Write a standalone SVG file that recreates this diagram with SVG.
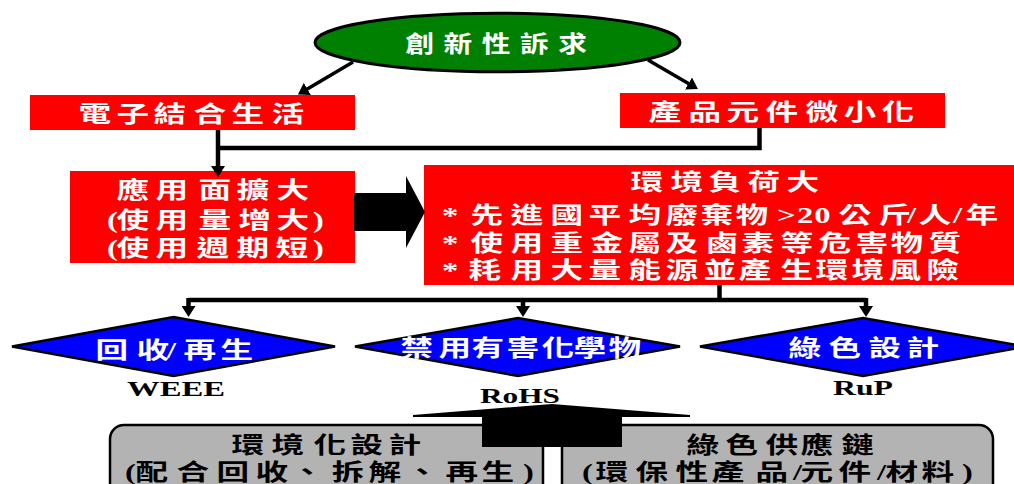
<svg xmlns="http://www.w3.org/2000/svg" width="1014" height="484" viewBox="0 0 1014 484">
<style>
.box{fill:#ff0000}
.dia{fill:#0000ff;stroke:#000;stroke-width:2.5}
.gray{fill:#b3b3b3;stroke:#000;stroke-width:2.5}
.cn{fill:none;stroke:#000;stroke-width:4.5;stroke-linejoin:miter}
.ln{fill:none;stroke:#000;stroke-width:3.5}
.t{font-family:"Liberation Serif","Noto Sans CJK TC",serif;font-weight:700;font-size:22.5px}
.lt{font-family:"Liberation Serif","Noto Sans CJK TC",serif;font-weight:700;font-size:21px;fill:#000}
.wt{fill:#fff}
.bk{fill:#000}
</style>
<defs>
<marker id="ah" markerUnits="userSpaceOnUse" markerWidth="12" markerHeight="14" viewBox="0 0 12 14" refX="1" refY="7" orient="auto">
<path d="M0,0 L11,7 L0,14 Z" fill="#000"/>
</marker>
</defs>

<g id="node-innovation">
<ellipse cx="497.5" cy="42.5" rx="182.5" ry="29.2" fill="#008000" stroke="#000" stroke-width="3"/>
<g transform="scale(1.25,1)">
<text class="t wt" style="font-size:23px" x="324.2 354.8 385.5 416.1 446.6" y="52">創新性訴求</text>
</g>
</g>

<g id="node-electronic-life">
<rect class="box" x="30" y="95" width="325" height="35"/>
<g transform="scale(1.45,1)">
<text class="t wt" x="54.2 80.4 105.9 133.5 159.7 187.3" y="122.5">電子結合生活</text>
</g>
</g>

<g id="node-miniaturization">
<rect class="box" x="620" y="93" width="325" height="35"/>
<g transform="scale(1.45,1)">
<text class="t wt" x="447.3 474.9 501.1 528.0 555.6 581.8 608.0" y="120.5">產品元件微小化</text>
</g>
</g>

<g id="node-application">
<rect class="box" x="70" y="171" width="285" height="92"/>
<g transform="scale(1.45,1)">
<text class="t wt" x="80.4 107.3 136.9 163.1 190.7" y="198.5">應用面擴大</text>
<text class="t wt" x="73.8 80.4 107.3 136.9 164.5 190.7 215.9" y="228.5">(使用量增大)</text>
<text class="t wt" x="73.8 80.4 107.3 135.6 163.1 190.0 215.9" y="256.5">(使用週期短)</text>
</g>
</g>

<g id="node-env-load">
<rect class="box" x="424" y="165" width="600" height="120"/>
<g transform="scale(1.45,1)">
<text class="t wt" x="434.9 462.4 488.7 515.6 542.4" y="190.5">環境負荷大</text>
<text class="t wt" x="304.8 315 324.5 352.1 379.7 405.9 433.5 459.0 483.1 507.3 535.9 549.7 561.5 578.3 605.9 625.5 633.5 657.2 665.9" y="223.5">* 先進國平均廢棄物&gt;20公斤/人/年</text>
<text class="t wt" x="304.8 315 324.5 352.1 379.7 407.3 433.5 459.0 486.6 511.4 538.3 564.5 590.0 614.2 640.4" y="251.5">* 使用重金屬及鹵素等危害物質</text>
<text class="t wt" x="304.8 315 323.1 352.1 379.7 405.9 433.5 459.0 485.2 509.3 538.3 562.4 587.3 612.8 639.0" y="278.5">* 耗用大量能源並產生環境風險</text>
</g>
</g>

<g id="node-recycle">
<polygon class="dia" points="12,346.5 173.5,317 335,346.5 173.5,376"/>
<g transform="scale(1.45,1)">
<text class="t wt" x="65.9 94.2 115.2 126.6 152.1" y="358.5">回收/再生</text>
</g>
<text class="lt" x="127" y="395.5" textLength="98" lengthAdjust="spacingAndGlyphs">WEEE</text>
</g>

<g id="node-hazard">
<polygon class="dia" points="355,346.5 518,318 680,346.5 518,376"/>
<g transform="scale(1.45,1)">
<text class="t wt" x="276.2 302.4 325.2 349.3 373.5 395.6 419.7" y="356.5">禁用有害化學物</text>
</g>
<text class="lt" x="480" y="402.5" textLength="80" lengthAdjust="spacingAndGlyphs">RoHS</text>
</g>

<g id="node-green-design">
<polygon class="dia" points="700,346.5 863,318 1026,346.5 863,376"/>
<g transform="scale(1.45,1)">
<text class="t wt" x="543.8 571.4 599.0 625.2" y="356.5">綠色設計</text>
</g>
<text class="lt" x="833" y="395" textLength="60" lengthAdjust="spacingAndGlyphs">RuP</text>
</g>

<g id="node-eco-design">
<rect class="gray" x="110" y="425" width="433" height="80" rx="14" ry="14"/>
<g transform="scale(1.45,1)">
<text class="t bk" x="159.7 187.3 216.2 241.8 268.0" y="453.5">環境化設計</text>
<text class="t bk" x="86.2 93.5 121.8 149.3 176.2 200.5 228.7 254.2 279.9 307.3 332.1 360.7" y="480.5">(配合回收、拆解、再生)</text>
</g>
</g>

<g id="node-green-supply">
<rect class="gray" x="562" y="425" width="431" height="80" rx="14" ry="14"/>
<g transform="scale(1.45,1)">
<text class="t bk" x="473.5 500.4 528.0 552.1 580.4" y="453.5">綠色供應鏈</text>
<text class="t bk" x="401.4 410.7 438.3 465.9 490.7 521.1 546.9 552.1 578.3 604.8 610.7 635.6 663.4" y="480.5">(環保性產品/元件/材料)</text>
</g>
</g>

<g id="connectors">
<path class="ln" d="M353,62 L306.5,89.4" marker-end="url(#ah)"/>
<path class="ln" d="M648,60 L689.3,84" marker-end="url(#ah)"/>
<path class="cn" d="M218,130 L218,167" marker-end="url(#ah)"/>
<path class="cn" d="M218,148 L759.5,148 L759.5,128"/>
<polygon points="354,193 406,193 406,176 425,212 406,248 406,231 354,231" fill="#000"/>
<path class="cn" d="M719.5,285 L719.5,300"/>
<path class="cn" d="M188.5,300 L866,300"/>
<path class="cn" d="M188.5,298 L188.5,307" marker-end="url(#ah)"/>
<path class="cn" d="M523,300 L523,307" marker-end="url(#ah)"/>
<path class="cn" d="M866,298 L866,307" marker-end="url(#ah)"/>
<path d="M413,415 L552,404 L690,415 L690,417 L622,417 L622,447 L482,447 L482,417 L413,417 Z" fill="#000"/>
</g>
</svg>
